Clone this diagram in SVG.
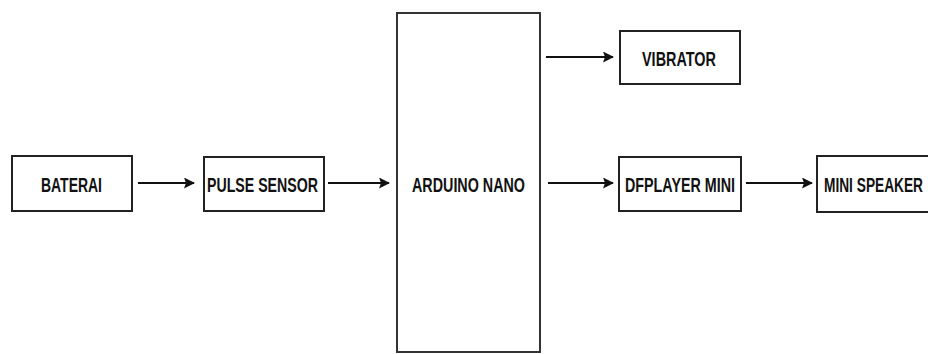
<svg xmlns="http://www.w3.org/2000/svg" width="928" height="354" viewBox="0 0 928 354">
<defs>
<style>
.box{fill:#fff;stroke:#222;stroke-width:2}
.big{fill:#fff;stroke:#333;stroke-width:2}
.t{font-family:"Liberation Sans",Arial,sans-serif;font-weight:bold;font-size:21px;fill:#111}
.c{stroke:#111;stroke-width:2;fill:none;marker-end:url(#ah)}
</style>
<marker id="ah" markerWidth="11" markerHeight="11" refX="10" refY="5.5" orient="auto" markerUnits="userSpaceOnUse">
<path d="M0,0 L11,5.5 L0,11 L2,5.5 Z" fill="#111"/>
</marker>
</defs>
<rect width="928" height="354" fill="#fff"/>
<g id="connectors">
<line class="c" x1="138" y1="183" x2="194" y2="183"/>
<line class="c" x1="328" y1="183" x2="389" y2="183"/>
<line class="c" x1="546" y1="57" x2="613" y2="57"/>
<line class="c" x1="548" y1="183" x2="613" y2="183"/>
<line class="c" x1="746" y1="183" x2="812" y2="183"/>
</g>
<g id="baterai">
<rect class="box" x="12" y="156" width="120" height="55"/>
<text class="t" x="41" y="191.5" textLength="61" lengthAdjust="spacingAndGlyphs">BATERAI</text>
</g>
<g id="pulse-sensor">
<rect class="box" x="204" y="157" width="120" height="54"/>
<text class="t" x="207" y="191.5" textLength="111" lengthAdjust="spacingAndGlyphs">PULSE SENSOR</text>
</g>
<g id="arduino-nano">
<rect class="big" x="397" y="13" width="143" height="339"/>
<text class="t" x="412" y="191.5" textLength="113" lengthAdjust="spacingAndGlyphs">ARDUINO NANO</text>
</g>
<g id="vibrator">
<rect class="box" x="620" y="31" width="120" height="53"/>
<text class="t" x="642" y="65.5" textLength="74" lengthAdjust="spacingAndGlyphs">VIBRATOR</text>
</g>
<g id="dfplayer-mini">
<rect class="box" x="619" y="157" width="122" height="54"/>
<text class="t" x="625" y="191.5" textLength="110" lengthAdjust="spacingAndGlyphs">DFPLAYER MINI</text>
</g>
<g id="mini-speaker">
<rect class="box" x="817" y="156" width="124" height="56"/>
<text class="t" x="824" y="191.5" textLength="99" lengthAdjust="spacingAndGlyphs">MINI SPEAKER</text>
</g>
</svg>
